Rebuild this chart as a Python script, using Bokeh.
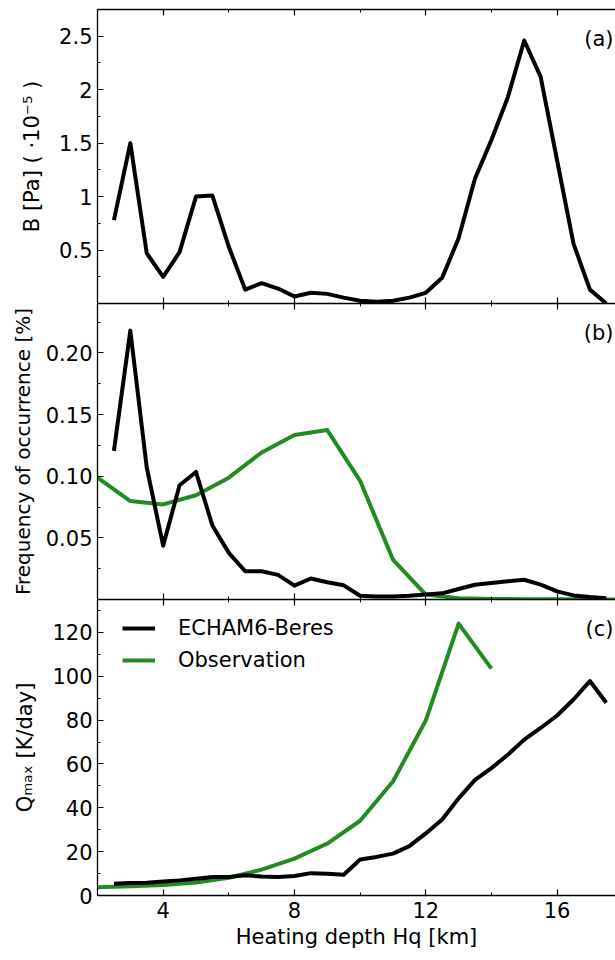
from bokeh.plotting import figure
from bokeh.layouts import column
from bokeh.models import Range1d, FixedTicker, LinearAxis, Label, Legend, LegendItem
from bokeh.embed import file_html
from bokeh.resources import INLINE

# ---------------- data ----------------
depth_model = [2.5, 3.0, 3.5, 4.0, 4.5, 5.0, 5.5, 6.0, 6.5, 7.0, 7.5, 8.0, 8.5, 9.0, 9.5,
               10.0, 10.5, 11.0, 11.5, 12.0, 12.5, 13.0, 13.5, 14.0, 14.5, 15.0, 15.5,
               16.0, 16.5, 17.0, 17.5]
b_model = [0.78, 1.50, 0.47, 0.25, 0.48, 1.00, 1.01, 0.53, 0.13, 0.19, 0.14, 0.065, 0.10,
           0.09, 0.055, 0.025, 0.017, 0.025, 0.055, 0.10, 0.24, 0.61, 1.17, 1.53, 1.93,
           2.46, 2.12, 1.34, 0.56, 0.13, 0.0]
freq_model = [0.1205, 0.218, 0.107, 0.0437, 0.0926, 0.1034, 0.060, 0.0378, 0.0229, 0.0229,
              0.020, 0.0112, 0.017, 0.014, 0.0115, 0.003, 0.0025, 0.0025, 0.003, 0.004,
              0.005, 0.0085, 0.012, 0.0134, 0.0148, 0.016, 0.012, 0.0066, 0.0033, 0.002, 0.001]
qmax_model = [5.35, 5.66, 5.8, 6.4, 6.9, 7.6, 8.4, 8.4, 9.2, 8.7, 8.4, 8.9, 10.2, 9.9, 9.5,
              16.4, 17.6, 19.1, 22.5, 28.3, 34.7, 44.3, 52.7, 58.1, 64.2, 71.1, 76.4, 82.1,
              89.4, 97.8, 87.9]

depth_obs_freq = [2, 3, 4, 5, 6, 7, 8, 9, 10, 11, 12, 13, 14, 15, 16, 17, 18]
freq_obs = [0.0988, 0.0798, 0.0771, 0.0845, 0.0988, 0.1192, 0.1333, 0.1374, 0.0962, 0.0324,
            0.004, 0.001, 0.0005, 0.0003, 0.0002, 0.0001, 0.0001]
depth_obs_q = [2, 3, 4, 5, 6, 7, 8, 9, 10, 11, 12, 13, 14]
qmax_obs = [3.8, 4.2, 4.8, 5.9, 8.1, 11.8, 16.8, 23.7, 34.1, 52.0, 79.8, 124.0, 103.5]

x_major = [4, 8, 12, 16]
x_minor = [2, 6, 10, 14, 18]
a_ticks = [0.5, 1, 1.5, 2, 2.5]
a_labels = ["0.5", "1", "1.5", "2", "2.5"]
b_ticks = [0.05, 0.10, 0.15, 0.20]
b_labels = ["0.05", "0.10", "0.15", "0.20"]
c_ticks = [0, 20, 40, 60, 80, 100, 120]
c_labels = ["0", "20", "40", "60", "80", "100", "120"]

GREEN = "#228B22"
FONT = "DejaVu Sans"
FS = "21px"
LW = 4
X0, X1 = 2, 17.78


def style_axis(ax, labels=True):
    ax.major_tick_in = 6
    ax.major_tick_out = 0
    ax.minor_tick_in = 3
    ax.minor_tick_out = 0
    ax.axis_line_width = 1.3
    ax.axis_line_color = "black"
    ax.major_tick_line_color = "black"
    ax.minor_tick_line_color = "black"
    ax.major_tick_line_width = 1.2
    ax.minor_tick_line_width = 1.0
    ax.major_label_text_font = FONT
    ax.axis_label_text_font = FONT
    ax.axis_label_text_font_style = "normal"
    ax.axis_label_text_font_size = FS
    ax.axis_label_text_color = "black"
    ax.major_label_text_color = "black"
    if labels:
        ax.major_label_text_font_size = FS
    else:
        ax.major_label_text_font_size = "0px"
        ax.major_label_standoff = 0


def make_panel(frame_h, yr, yticks, yminor, ylabels, ylab, ylab_standoff, top_border,
               bottom_labels, tag, ylab_fs=FS):
    p = figure(frame_width=518, frame_height=frame_h, x_range=Range1d(X0, X1),
               y_range=yr, output_backend="svg", toolbar_location=None,
               x_axis_location=None, y_axis_location=None,
               min_border_left=97, min_border_right=0, min_border_top=top_border,
               min_border_bottom=0)
    p.outline_line_color = None
    p.xgrid.visible = False
    p.ygrid.visible = False
    p.background_fill_color = "white"

    ya = LinearAxis(ticker=FixedTicker(ticks=yticks, minor_ticks=yminor),
                    axis_label=ylab)
    style_axis(ya)
    ya.axis_label_text_font_size = ylab_fs
    ya.major_label_overrides = {t: l for t, l in zip(yticks, ylabels)}
    ya.axis_label_standoff = ylab_standoff
    ya.major_label_standoff = 5
    p.add_layout(ya, "left")

    top = LinearAxis(ticker=FixedTicker(ticks=x_major, minor_ticks=x_minor))
    style_axis(top, labels=False)
    top.major_label_overrides = {t: "" for t in x_major}
    p.add_layout(top, "above")

    bot = LinearAxis(ticker=FixedTicker(ticks=x_major, minor_ticks=x_minor))
    if bottom_labels:
        style_axis(bot)
        bot.axis_label = "Heating depth Hq [km]"
        bot.major_label_standoff = 6
        bot.axis_label_standoff = 4
    else:
        style_axis(bot, labels=False)
        bot.major_label_overrides = {t: "" for t in x_major}
    p.add_layout(bot, "below")

    p.add_layout(Label(x=516, y=frame_h - 17, x_units="screen", y_units="screen",
                       text=tag, text_align="right", text_baseline="top",
                       text_font=FONT, text_font_size=FS, text_color="black"))
    return p


pa = make_panel(294, Range1d(0, 2.75), a_ticks, [0.25, 0.75, 1.25, 1.75, 2.25, 2.75],
                a_labels, "B [Pa] ( ·10⁻⁵ )", 12, 9, False, "(a)")
pa.line(depth_model, b_model, line_color="black", line_width=LW, line_join="round")

pb = make_panel(296, Range1d(0, 0.24), b_ticks, [0.025, 0.075, 0.125, 0.175, 0.225],
                b_labels, "Frequency of occurrence [%]", 8, 0, False, "(b)", ylab_fs="20px")
pb.line(depth_obs_freq, freq_obs, line_color=GREEN, line_width=LW, line_join="round")
pb.line(depth_model, freq_model, line_color="black", line_width=LW, line_join="round")

pc = make_panel(296, Range1d(0, 135), c_ticks, [10, 30, 50, 70, 90, 110, 130],
                c_labels, "Qₘₐₓ [K/day]", 12, 0, True, "(c)")
r_obs = pc.line(depth_obs_q, qmax_obs, line_color=GREEN, line_width=LW, line_join="round")
r_mod = pc.line(depth_model, qmax_model, line_color="black", line_width=LW, line_join="round")

legend = Legend(items=[LegendItem(label="ECHAM6-Beres", renderers=[r_mod]),
                       LegendItem(label="Observation", renderers=[r_obs])],
                location=(25, 219), padding=0, margin=0, spacing=0,
                label_height=32, glyph_height=32, glyph_width=33, label_standoff=23,
                border_line_color=None, background_fill_alpha=0,
                label_text_font=FONT, label_text_font_size=FS, label_text_color="black")
pc.add_layout(legend)

layout = column(pa, pb, pc, spacing=0)
open("out.html", "w").write(file_html(layout, INLINE))
